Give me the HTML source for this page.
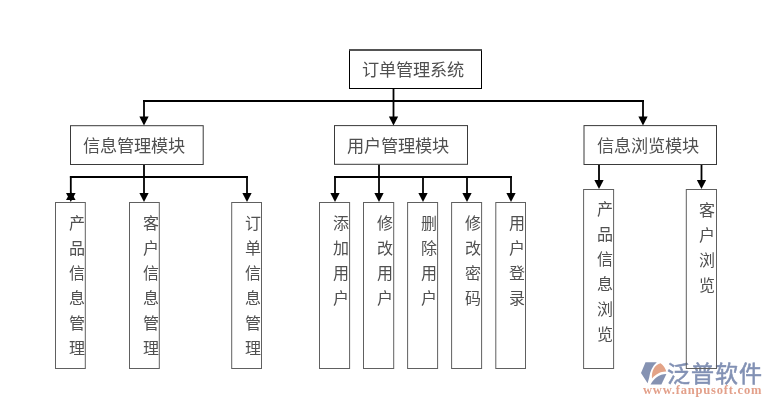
<!DOCTYPE html>
<html lang="zh-CN"><head><meta charset="utf-8">
<style>
html,body{margin:0;padding:0;background:#fff;}
body{width:771px;height:406px;position:relative;overflow:hidden;font-family:"Liberation Serif",serif;}
svg{position:absolute;left:0;top:0;}
.t{position:absolute;will-change:transform;color:#505050;white-space:nowrap;line-height:1;}
.h{font-size:17.2px;}
.v{font-size:16px;width:16px;}
.v span{display:block;height:25px;}
.lt{position:absolute;will-change:transform;left:667px;top:363px;font-family:"Liberation Sans",sans-serif;font-size:23px;line-height:1;letter-spacing:1px;color:#8291b4;font-weight:500;-webkit-text-stroke:0.55px #8291b4;white-space:nowrap;}
.lu{position:absolute;will-change:transform;left:642.5px;top:384px;font-family:"Liberation Serif",serif;font-size:12.5px;line-height:1;letter-spacing:0.8px;color:#e3a08a;font-weight:bold;white-space:nowrap;}
</style></head><body>
<svg class="logo" width="771" height="406" viewBox="0 0 771 406">
<path d="M645.5,362.2 L656.8,362.2 C652.5,366 650,371 649.2,377.5 L647.6,383.2 L641,373 Z" fill="#8592b2"/>
<path d="M652,378.6 C651.3,371 654.5,365 660.6,363.3 C663.5,365.5 665.5,368.5 666.3,371.4 C661,371.2 655.5,374 652,378.6 Z" fill="#e3a387"/>
<path d="M650.5,384.4 L661.4,384.4 L666.4,374 C659,374 654,378.5 650.5,384.4 Z" fill="#8592b2"/>
</svg>
<div class="lt">泛普软件</div>
<div class="lu">www.fanpusoft.com</div>
<svg width="771" height="406" viewBox="0 0 771 406">
<g stroke="#000" stroke-width="1.8" fill="none">
<line x1="393.5" y1="88.5" x2="393.5" y2="118"/><line x1="143" y1="101" x2="644" y2="101"/><line x1="144" y1="100" x2="144" y2="118"/><line x1="643" y1="100" x2="643" y2="118"/><line x1="144" y1="164.5" x2="144" y2="194"/><line x1="69.9" y1="177" x2="248" y2="177"/><line x1="70.8" y1="176" x2="70.8" y2="194"/><line x1="247" y1="176" x2="247" y2="194"/><line x1="379" y1="164.5" x2="379" y2="194"/><line x1="334" y1="177" x2="512" y2="177"/><line x1="335" y1="176" x2="335" y2="194"/><line x1="423" y1="176" x2="423" y2="194"/><line x1="467" y1="176" x2="467" y2="194"/><line x1="511" y1="176" x2="511" y2="194"/><line x1="599" y1="164.5" x2="599" y2="181"/><line x1="701.5" y1="164.5" x2="701.5" y2="181"/>
</g>
<rect x="349.5" y="50" width="132" height="38.5" fill="#fff" stroke="#000" stroke-width="1"/><line x1="349" y1="50" x2="482" y2="50" stroke="#444" stroke-width="1.6"/><rect x="70.5" y="125.7" width="132.70" height="38.80" fill="#fff" stroke="#3a3a3a" stroke-width="1"/><rect x="334.5" y="125.6" width="133.00" height="38.70" fill="#fff" stroke="#3a3a3a" stroke-width="1"/><rect x="584.0" y="125.6" width="132.50" height="38.90" fill="#fff" stroke="#3a3a3a" stroke-width="1"/>
<g fill="none" stroke="#606060" stroke-width="1">
<rect x="55.5" y="202.5" width="29.80" height="166.00"/><rect x="129.5" y="202.5" width="29.80" height="166.00"/><rect x="231.7" y="202.5" width="29.80" height="166.00"/><rect x="319.5" y="202.5" width="30.10" height="166.00"/><rect x="363.5" y="202.5" width="30.20" height="166.00"/><rect x="407.6" y="202.5" width="30.00" height="166.00"/><rect x="451.6" y="202.5" width="30.00" height="166.00"/><rect x="495.8" y="202.5" width="29.70" height="166.00"/><rect x="583.6" y="189.5" width="30.00" height="179.00"/><rect x="686.3" y="189.5" width="30.20" height="179.00"/>
</g>
<g fill="#000">
<path d="M388.85,116.50 L398.15,116.50 L393.50,125.50 Z"/><path d="M139.35,116.50 L148.65,116.50 L144.00,125.50 Z"/><path d="M638.35,116.50 L647.65,116.50 L643.00,125.50 Z"/><path d="M139.35,193.00 L148.65,193.00 L144.00,202.00 Z"/><path d="M242.35,193.00 L251.65,193.00 L247.00,202.00 Z"/><path d="M330.35,193.00 L339.65,193.00 L335.00,202.00 Z"/><path d="M374.35,193.00 L383.65,193.00 L379.00,202.00 Z"/><path d="M418.35,193.00 L427.65,193.00 L423.00,202.00 Z"/><path d="M462.35,193.00 L471.65,193.00 L467.00,202.00 Z"/><path d="M506.35,193.00 L515.65,193.00 L511.00,202.00 Z"/><path d="M594.35,180.00 L603.65,180.00 L599.00,189.00 Z"/><path d="M696.85,180.00 L706.15,180.00 L701.50,189.00 Z"/><path d="M66.00,193.00 L75.60,193.00 L70.80,202.00 Z"/><path d="M66,200 L75.6,200 L70.8,191.5 Z"/>
</g>
</svg>
<div class="t h" style="left:362px;top:62px">订单管理系统</div><div class="t h" style="left:82.8px;top:138px">信息管理模块</div><div class="t h" style="left:347.1px;top:138px">用户管理模块</div><div class="t h" style="left:596.7px;top:138px">信息浏览模块</div><div class="t v" style="left:68.5px;top:215.5px"><span>产</span><span>品</span><span>信</span><span>息</span><span>管</span><span>理</span></div><div class="t v" style="left:142.5px;top:215.5px"><span>客</span><span>户</span><span>信</span><span>息</span><span>管</span><span>理</span></div><div class="t v" style="left:244.7px;top:215.5px"><span>订</span><span>单</span><span>信</span><span>息</span><span>管</span><span>理</span></div><div class="t v" style="left:332.5px;top:215.5px"><span>添</span><span>加</span><span>用</span><span>户</span></div><div class="t v" style="left:376.5px;top:215.5px"><span>修</span><span>改</span><span>用</span><span>户</span></div><div class="t v" style="left:420.6px;top:215.5px"><span>删</span><span>除</span><span>用</span><span>户</span></div><div class="t v" style="left:464.6px;top:215.5px"><span>修</span><span>改</span><span>密</span><span>码</span></div><div class="t v" style="left:508.8px;top:215.5px"><span>用</span><span>户</span><span>登</span><span>录</span></div><div class="t v" style="left:596.6px;top:201.5px"><span>产</span><span>品</span><span>信</span><span>息</span><span>浏</span><span>览</span></div><div class="t v" style="left:699.3px;top:202.5px"><span>客</span><span>户</span><span>浏</span><span>览</span></div>
</body></html>
